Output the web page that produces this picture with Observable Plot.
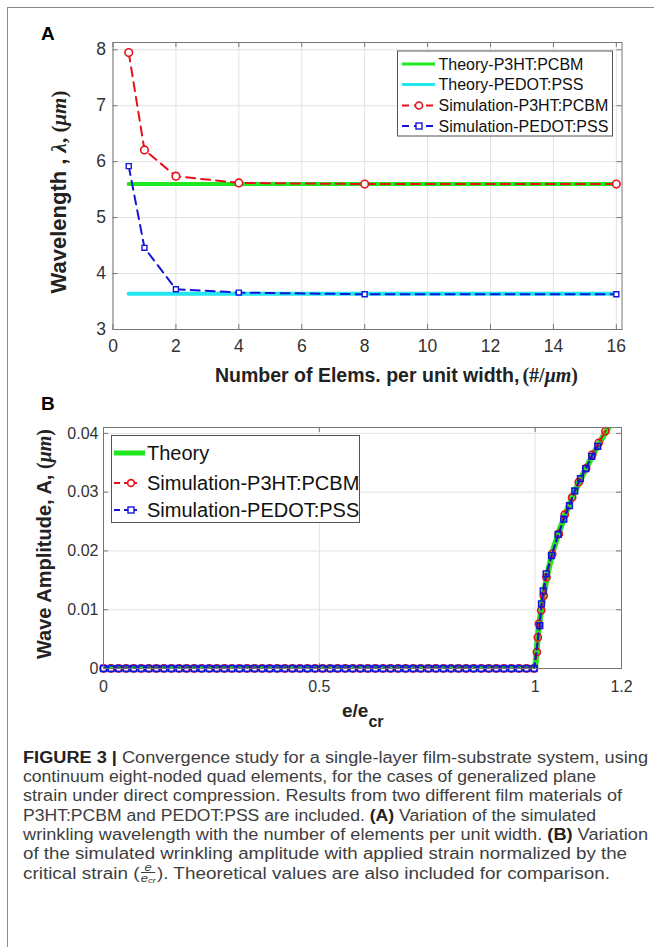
<!DOCTYPE html>
<html><head><meta charset="utf-8">
<script src="https://cdn.jsdelivr.net/npm/d3@7"></script>
<script src="https://cdn.jsdelivr.net/npm/@observablehq/plot@0.6"></script>
<style>
body{margin:0;background:#fff;}
#page{position:relative;width:654px;height:947px;overflow:hidden;background:#fff;}
#border{position:absolute;left:7px;top:7px;width:700px;height:1000px;border-left:1.5px solid #8a8a8a;border-top:1.5px solid #8a8a8a;}
#panelA{position:absolute;left:0;top:0;}
#panelB{position:absolute;left:0;top:395px;}
#caption{position:absolute;left:23px;top:748px;width:640px;font-family:"Liberation Sans",Arial,sans-serif;font-size:16px;line-height:19.2px;color:#3e3e3e;white-space:nowrap;}
#caption .ln{display:block;height:19.2px;}
#caption .ln span.in{display:inline-block;transform-origin:0 50%;}
#caption b{color:#222;}
.frac{display:inline-block;vertical-align:middle;text-align:center;font-style:italic;font-size:11px;line-height:10px;margin:0 1px;position:relative;top:-1px;}
.frac .num{display:block;border-bottom:1px solid #3a3a3a;padding:0 1px;}
.frac .den{display:block;}
.frac sub{font-size:8px;vertical-align:-1px;}
</style></head>
<body><div id="page"><div id="border"></div><div id="panelA"></div><div id="panelB"></div><div id="caption"></div></div>
<script>
// ---------------- Data: panel A ----------------
const elemsPerWidth = [0.5, 1, 2, 4, 8, 16];
const theoryP3HT   = [5.6, 5.6, 5.6, 5.6, 5.6, 5.6];
const theoryPEDOT  = [3.64, 3.64, 3.64, 3.64, 3.64, 3.64];
const simP3HT      = [7.95, 6.21, 5.74, 5.62, 5.6, 5.6];
const simPEDOT     = [5.92, 4.46, 3.72, 3.66, 3.63, 3.63];
const xTicksA = [0, 2, 4, 6, 8, 10, 12, 14, 16];
const yTicksA = [3, 4, 5, 6, 7, 8];
const legendA = ["Theory-P3HT:PCBM", "Theory-PEDOT:PSS", "Simulation-P3HT:PCBM", "Simulation-PEDOT:PSS"];

// ---------------- Data: panel B ----------------
const strainTheory = [0, 1, 1.004, 1.008, 1.013, 1.02, 1.027, 1.04, 1.055, 1.07, 1.085, 1.1, 1.12, 1.14, 1.16, 1.17];
const ampTheory    = [0, 0, 0.0035, 0.0068, 0.0095, 0.0126, 0.0156, 0.0198, 0.0232, 0.0262, 0.029, 0.0314, 0.0344, 0.0372, 0.0398, 0.041];
const strainZero = [0, 0.0175, 0.035, 0.0525, 0.07, 0.0875, 0.105, 0.1225, 0.14, 0.1575, 0.175, 0.1925, 0.21, 0.2275, 0.245, 0.2625, 0.28, 0.2975, 0.315, 0.3325, 0.35, 0.3675, 0.385, 0.4025, 0.42, 0.4375, 0.455, 0.4725, 0.49, 0.5075, 0.525, 0.5425, 0.56, 0.5775, 0.595, 0.6125, 0.63, 0.6475, 0.665, 0.6825, 0.7, 0.7175, 0.735, 0.7525, 0.77, 0.7875, 0.805, 0.8225, 0.84, 0.8575, 0.875, 0.8925, 0.91, 0.9275, 0.945, 0.9625, 0.98, 0.9975];
const strainP3HT = [1.0039, 1.0062, 1.0085, 1.0139, 1.0199, 1.0262, 1.0394, 1.0547, 1.0686, 1.0857, 1.101, 1.1181, 1.132, 1.1473, 1.1628];
const ampP3HT    = [0.0028, 0.0053, 0.0076, 0.0099, 0.0124, 0.0155, 0.0195, 0.0229, 0.0262, 0.0291, 0.0317, 0.0341, 0.0364, 0.0384, 0.0404];
const strainPEDOT = [1.0107, 1.0146, 1.0186, 1.0255, 1.0378, 1.0533, 1.0663, 1.0795, 1.0917, 1.1049, 1.1172, 1.1311, 1.145];
const ampPEDOT    = [0.0073, 0.011, 0.0132, 0.0161, 0.0192, 0.0228, 0.0254, 0.0277, 0.0302, 0.0323, 0.034, 0.0361, 0.0378];
const xTicksB = [0, 0.5, 1, 1.2];
const yTicksB = [0, 0.01, 0.02, 0.03, 0.04];
const legendB = ["Theory", "Simulation-P3HT:PCBM", "Simulation-PEDOT:PSS"];

// ---------------- Styles ----------------
const GREEN = "#1fe81f", CYAN = "#22e6f2", RED = "#e8101a", BLUE = "#1414d8";
const SANS = "'Liberation Sans', Arial, sans-serif";
const SERIF = "'Liberation Serif', 'DejaVu Serif', serif";
const FRAME = "#777", GRID = "#e2e2e2", TXT = "#333";
const W = 654;

// ---------------- Panel A ----------------
const hA = 395, mTA = 42, mBA = hA - 329, mLA = 112.5, mRA = W - 621.5;
const pHA = hA - mTA - mBA, pWA = W - mLA - mRA;
const rowsA = elemsPerWidth.map((x, i) => ({x, thP: theoryP3HT[i], thD: theoryPEDOT[i], sP: simP3HT[i], sD: simPEDOT[i]}));
const chartA = Plot.plot({
  width: W, height: hA, marginTop: mTA, marginBottom: mBA, marginLeft: mLA, marginRight: mRA,
  style: {fontFamily: SANS, color: TXT, background: "transparent", overflow: "visible"},
  x: {domain: [0, 16.18]},
  y: {domain: [3, 8.13]},
  marks: [
    Plot.gridX(xTicksA, {stroke: GRID, strokeOpacity: 1}),
    Plot.gridY(yTicksA, {stroke: GRID, strokeOpacity: 1}),
    Plot.tickX(xTicksA, {x: d => d, insetTop: pHA - 5, stroke: FRAME}),
    Plot.tickX(xTicksA, {x: d => d, insetBottom: pHA - 5, stroke: FRAME}),
    Plot.tickY(yTicksA, {y: d => d, insetRight: pWA - 5, stroke: FRAME}),
    Plot.tickY(yTicksA, {y: d => d, insetLeft: pWA - 5, stroke: FRAME}),
    Plot.axisX(xTicksA, {tickSize: 0, tickPadding: 10, fontSize: 17.5, label: null, tickFormat: d => String(d)}),
    Plot.axisY(yTicksA, {tickSize: 0, tickPadding: 7, fontSize: 17.5, label: null, tickFormat: d => String(d)}),
    Plot.line(rowsA, {x: "x", y: "thP", stroke: GREEN, strokeWidth: 4}),
    Plot.line(rowsA, {x: "x", y: "thD", stroke: CYAN, strokeWidth: 4}),
    Plot.line(rowsA, {x: "x", y: "sP", stroke: RED, strokeWidth: 2, strokeDasharray: "9,6"}),
    Plot.line(rowsA, {x: "x", y: "sD", stroke: BLUE, strokeWidth: 2, strokeDasharray: "9,6"}),
    Plot.dot(rowsA, {x: "x", y: "sP", r: 3.8, stroke: RED, strokeWidth: 1.6, fill: "white"}),
    Plot.dot(rowsA, {x: "x", y: "sD", r: 2.8, symbol: "square", stroke: BLUE, strokeWidth: 1.4, fill: "white"}),
    Plot.frame({stroke: FRAME})
  ]
});
document.getElementById("panelA").appendChild(chartA);

{
  const s = d3.select(chartA);
  s.append("text").attr("x", 41).attr("y", 40).attr("text-anchor", "start").attr("font-family", SANS).attr("font-weight", "bold")
    .attr("font-size", 19).attr("fill", "#000").text("A");
  // x label
  const xl = s.append("text").attr("x", 215).attr("y", 382).attr("text-anchor", "start").attr("fill", "#222").attr("font-weight", "bold");
  xl.append("tspan").attr("font-family", SANS).attr("font-size", 19.5).text("Number of Elems. per unit width,");
  xl.append("tspan").attr("font-family", SERIF).attr("font-size", 20).attr("dx", 3).text("(#/");
  xl.append("tspan").attr("font-family", SERIF).attr("font-size", 20).attr("font-style", "italic").text("μm");
  xl.append("tspan").attr("font-family", SERIF).attr("font-size", 20).text(")");
  // y label
  const yl = s.append("text").attr("transform", "translate(66,192) rotate(-90)").attr("text-anchor", "middle")
    .attr("fill", "#222").attr("font-weight", "bold");
  yl.append("tspan").attr("font-family", SANS).attr("font-size", 22).text("Wavelength , ");
  yl.append("tspan").attr("font-family", SERIF).attr("font-size", 21).attr("font-style", "italic").text("λ");
  yl.append("tspan").attr("font-family", SERIF).attr("font-size", 21).text(", (");
  yl.append("tspan").attr("font-family", SERIF).attr("font-size", 21).attr("font-style", "italic").text("μm");
  yl.append("tspan").attr("font-family", SERIF).attr("font-size", 21).text(")");
  // legend
  const g = s.append("g").attr("text-anchor", "start");
  g.append("rect").attr("x", 397.5).attr("y", 51).attr("width", 215).attr("height", 85)
    .attr("fill", "white").attr("stroke", "#555").attr("stroke-width", 1);
  const ys = [64, 84.5, 105.5, 126];
  const cols = [GREEN, CYAN, RED, BLUE];
  legendA.forEach((t, i) => {
    const y = ys[i];
    const ln = g.append("line").attr("x1", 402).attr("x2", 435).attr("y1", y).attr("y2", y)
      .attr("stroke", cols[i]).attr("stroke-width", i < 2 ? 3 : 2);
    if (i >= 2) ln.attr("stroke-dasharray", "7,5");
    if (i === 2) g.append("circle").attr("cx", 419).attr("cy", y).attr("r", 3.5).attr("fill", "white").attr("stroke", RED).attr("stroke-width", 1.6);
    if (i === 3) g.append("rect").attr("x", 416).attr("y", y - 3).attr("width", 6).attr("height", 6).attr("fill", "white").attr("stroke", BLUE).attr("stroke-width", 1.4);
    g.append("text").attr("x", 438.5).attr("y", y + 5.8).attr("text-anchor", "start").attr("font-family", SANS).attr("font-size", 16).attr("fill", "#111").text(t);
  });
}

// ---------------- Panel B ----------------
const hB = 345, mTB = 32, mBB = 72, mLB = 103, mRB = 33;
const pHB = hB - mTB - mBB, pWB = W - mLB - mRB;
const theoryRows = strainTheory.map((x, i) => ({x, a: ampTheory[i]}));
const zeroRows = strainZero.map(x => ({x, a: 0}));
const rowsP = zeroRows.concat(strainP3HT.map((x, i) => ({x, a: ampP3HT[i]})));
const rowsD = zeroRows.concat(strainPEDOT.map((x, i) => ({x, a: ampPEDOT[i]})));
const chartB = Plot.plot({
  width: W, height: hB, marginTop: mTB, marginBottom: mBB, marginLeft: mLB, marginRight: mRB,
  style: {fontFamily: SANS, color: TXT, background: "transparent", overflow: "visible"},
  x: {domain: [0, 1.2]},
  y: {domain: [0, 0.041]},
  marks: [
    Plot.gridX(xTicksB, {stroke: GRID, strokeOpacity: 1}),
    Plot.gridY(yTicksB, {stroke: GRID, strokeOpacity: 1}),
    Plot.tickX(xTicksB, {x: d => d, insetTop: pHB - 5, stroke: FRAME}),
    Plot.tickX(xTicksB, {x: d => d, insetBottom: pHB - 5, stroke: FRAME}),
    Plot.tickY(yTicksB, {y: d => d, insetRight: pWB - 5, stroke: FRAME}),
    Plot.tickY(yTicksB, {y: d => d, insetLeft: pWB - 5, stroke: FRAME}),
    Plot.axisX(xTicksB, {tickSize: 0, tickPadding: 12, fontSize: 16, label: null, tickFormat: d => String(d)}),
    Plot.axisY(yTicksB, {tickSize: 0, tickPadding: 5, fontSize: 16, label: null, tickFormat: d => String(d)}),
    Plot.line(theoryRows, {x: "x", y: "a", stroke: GREEN, strokeWidth: 6, clip: true}),
    Plot.line(rowsP, {x: "x", y: "a", stroke: RED, strokeWidth: 2, strokeDasharray: "6,4", clip: true}),
    Plot.dot(rowsP, {x: "x", y: "a", r: 3.6, stroke: RED, strokeWidth: 1.6, fill: "none"}),
    Plot.line(rowsD, {x: "x", y: "a", stroke: BLUE, strokeWidth: 2, strokeDasharray: "6,4", clip: true}),
    Plot.dot(rowsD, {x: "x", y: "a", r: 3.2, symbol: "square", stroke: BLUE, strokeWidth: 1.6, fill: "none"}),
    Plot.frame({stroke: FRAME})
  ]
});
document.getElementById("panelB").appendChild(chartB);

{
  const s = d3.select(chartB);
  const off = 395;
  s.append("text").attr("x", 41).attr("y", 410 - off).attr("text-anchor", "start").attr("font-family", SANS).attr("font-weight", "bold")
    .attr("font-size", 19).attr("fill", "#000").text("B");
  const xl = s.append("text").attr("x", 342).attr("y", 717 - off).attr("text-anchor", "start").attr("fill", "#222").attr("font-weight", "bold").attr("font-family", SANS);
  xl.append("tspan").attr("font-size", 19).text("e/e");
  xl.append("tspan").attr("font-size", 16).attr("dy", 10).text("cr");
  const yl = s.append("text").attr("transform", `translate(51,${544 - off}) rotate(-90)`).attr("text-anchor", "middle")
    .attr("fill", "#222").attr("font-weight", "bold");
  yl.append("tspan").attr("font-family", SANS).attr("font-size", 20).text("Wave Amplitude, A, ");
  yl.append("tspan").attr("font-family", SERIF).attr("font-size", 20).text("(");
  yl.append("tspan").attr("font-family", SERIF).attr("font-size", 20).attr("font-style", "italic").text("μm");
  yl.append("tspan").attr("font-family", SERIF).attr("font-size", 20).text(")");
  const g = s.append("g").attr("text-anchor", "start");
  g.append("rect").attr("x", 111.5).attr("y", 435.5 - off).attr("width", 248).attr("height", 87)
    .attr("fill", "white").attr("stroke", "#555").attr("stroke-width", 1);
  const ys = [453, 483, 510].map(v => v - off);
  legendB.forEach((t, i) => {
    const y = ys[i];
    if (i === 0) {
      g.append("line").attr("x1", 114).attr("x2", 145).attr("y1", y).attr("y2", y).attr("stroke", GREEN).attr("stroke-width", 5);
    } else {
      const c = i === 1 ? RED : BLUE;
      g.append("line").attr("x1", 114).attr("x2", 120).attr("y1", y).attr("y2", y).attr("stroke", c).attr("stroke-width", 2);
      g.append("line").attr("x1", 124).attr("x2", 137).attr("y1", y).attr("y2", y).attr("stroke", c).attr("stroke-width", 2);
      if (i === 1) g.append("circle").attr("cx", 131).attr("cy", y).attr("r", 3.4).attr("fill", "white").attr("stroke", RED).attr("stroke-width", 1.6);
      else g.append("rect").attr("x", 128).attr("y", y - 3).attr("width", 6).attr("height", 6).attr("fill", "white").attr("stroke", BLUE).attr("stroke-width", 1.4);
    }
    g.append("text").attr("x", 147).attr("y", y + 7).attr("text-anchor", "start").attr("font-family", SANS).attr("font-size", 20).attr("fill", "#111").text(t);
  });
}

// ---------------- Caption ----------------
const captionLines = [
  "<b>FIGURE 3 |</b> Convergence study for a single-layer film-substrate system, using",
  "continuum eight-noded quad elements, for the cases of generalized plane",
  "strain under direct compression. Results from two different film materials of",
  "P3HT:PCBM and PEDOT:PSS are included. <b>(A)</b> Variation of the simulated",
  "wrinkling wavelength with the number of elements per unit width. <b>(B)</b> Variation",
  "of the simulated wrinkling amplitude with applied strain normalized by the",
  "critical strain (<span class=\"frac\"><span class=\"num\">e</span><span class=\"den\">e<sub>cr</sub></span></span>). Theoretical values are also included for comparison."
];
const captionWidths = [625, 573, 599, 573, 625, 604, 587];
const cap = document.getElementById("caption");
captionLines.forEach((html, i) => {
  const d = document.createElement("div");
  d.className = "ln";
  d.innerHTML = `<span class="in">${html}</span>`;
  cap.appendChild(d);
  const sp = d.firstChild;
  const w = sp.getBoundingClientRect().width;
  const k = captionWidths[i] / w;
  if (k > 0.8 && k < 1.25) sp.style.transform = `scaleX(${k})`;
});
</script>
</body></html>
